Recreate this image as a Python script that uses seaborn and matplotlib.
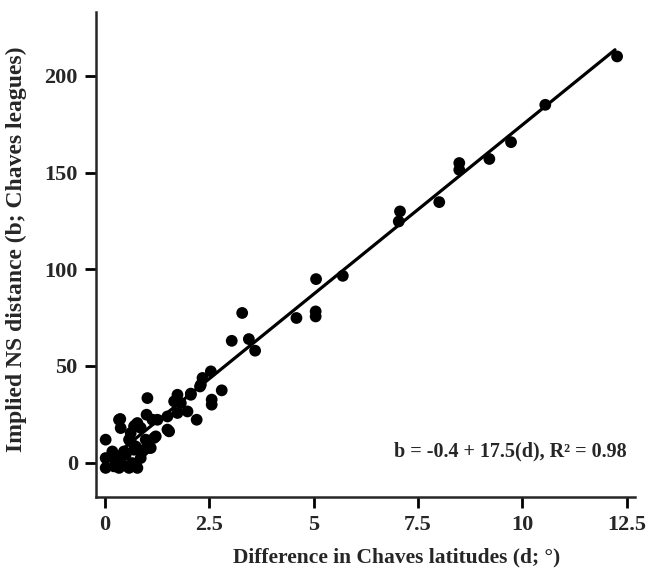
import matplotlib
matplotlib.use("Agg")
import matplotlib.pyplot as plt
import seaborn as sns
import pandas as pd
import numpy as np

# difference in Chaves latitudes (d) and implied NS distance (b)
lat_diff = [
    12.27, 10.55, 9.73, 9.21, 8.49, 8.49, 8.01, 7.07, 7.04,
    5.70, 5.06, 5.05, 5.05, 4.59, 3.29, 3.04, 3.45, 3.60,
    2.54, 2.34, 2.28, 2.80, 2.56, 2.56, 2.06, 2.30,
    1.02, 1.74, 2.06, 2.20, 1.82, 1.66, 1.98, 1.54, 1.26, 1.50, 1.74,
    0.86, 1.22, 1.18, 1.00, 0.70, 0.37, 0.38, 0.02,
    0.34, 0.74, 1.14, 1.50, 0.98, 0.58, 0.74,
    0.02, 0.02, 0.26, 0.34, 0.50, 0.66, 0.58, 0.78, 0.90, 0.86, 1.10, 0.18,
    0.22, 0.54, 0.74, 0.22, 0.46, 0.70, 0.94, 0.62, 0.62, 0.78, 1.06, 0.38,
]
ns_dist = [
    210.0, 185.0, 165.7, 157.0, 154.9, 151.4, 134.7, 129.9, 124.7,
    96.6, 94.9, 78.2, 75.6, 74.8, 77.4, 63.0, 63.9, 57.9,
    47.2, 43.8, 39.4, 37.4, 32.6, 30.0, 35.7, 40.3,
    33.4, 35.1, 35.1, 22.2, 30.8, 31.7, 26.5, 16.2, 22.2, 23.9, 25.7,
    18.0, 13.6, 12.8, 24.8, 18.8, 22.6, 17.9, 11.9,
    22.2, 19.6, 22.2, 17.1, 11.9, 11.9, 8.4,
    2.4, -2.7, 0.7, -2.7, 4.1, -0.2, -2.7, -2.7, 5.8, 2.4, 7.6, 5.8,
    -1.9, -1.9, -1.9, 4.1, 5.8, 6.7, 6.7, 11.0, 15.3, 20.5, 7.6, 2.4,
]

# fitted line b = -0.4 + 17.5(d)
intercept = -0.4
slope = 17.5
fit_range = [0.0, 12.22]

x_ticks = [0, 2.5, 5, 7.5, 10, 12.5]
x_ticklabels = ["0", "2.5", "5", "7.5", "10", "12.5"]
y_ticks = [0, 50, 100, 150, 200]

sns.set_style("ticks")
plt.rcParams["font.family"] = ["Liberation Serif", "DejaVu Serif"]
plt.rcParams["font.weight"] = "bold"

df = pd.DataFrame({"d": lat_diff, "b": ns_dist})
fit = pd.DataFrame({"d": fit_range})
fit["b"] = intercept + slope * fit["d"]

fig = plt.figure(figsize=(6.52, 5.69), dpi=100)
ax = fig.add_axes([0.147, 0.127, 0.827, 0.852])

sns.lineplot(data=fit, x="d", y="b", color="black", linewidth=2.3, ax=ax)
sns.scatterplot(data=df, x="d", y="b", color="black", s=72, edgecolor="none", ax=ax, zorder=3)

ax.set_xlim(-0.215, 12.7)
ax.set_ylim(-17.6, 233)
ax.set_xticks(x_ticks)
ax.set_xticklabels(x_ticklabels)
ax.set_yticks(y_ticks)

for side in ["top", "right"]:
    ax.spines[side].set_visible(False)
for side in ["left", "bottom"]:
    ax.spines[side].set_linewidth(1.8)
ax.tick_params(axis="both", length=8, width=2.0, labelsize=16, pad=5, color="black")
for lbl in ax.get_xticklabels() + ax.get_yticklabels():
    lbl.set_fontweight("bold")

ax.set_xlabel("Difference in Chaves latitudes (d; °)", fontsize=15.5, fontweight="bold")
ax.set_ylabel("Implied NS distance (b; Chaves leagues)", fontsize=17, fontweight="bold")
ax.xaxis.set_label_coords(0.558, -0.105)
ax.yaxis.set_label_coords(-0.128, 0.51)

ax.text(12.5, 6, "b = -0.4 + 17.5(d), R² = 0.98", ha="right", va="center",
        fontsize=14.5, fontweight="bold")

fig.savefig("out.png", dpi=100)
